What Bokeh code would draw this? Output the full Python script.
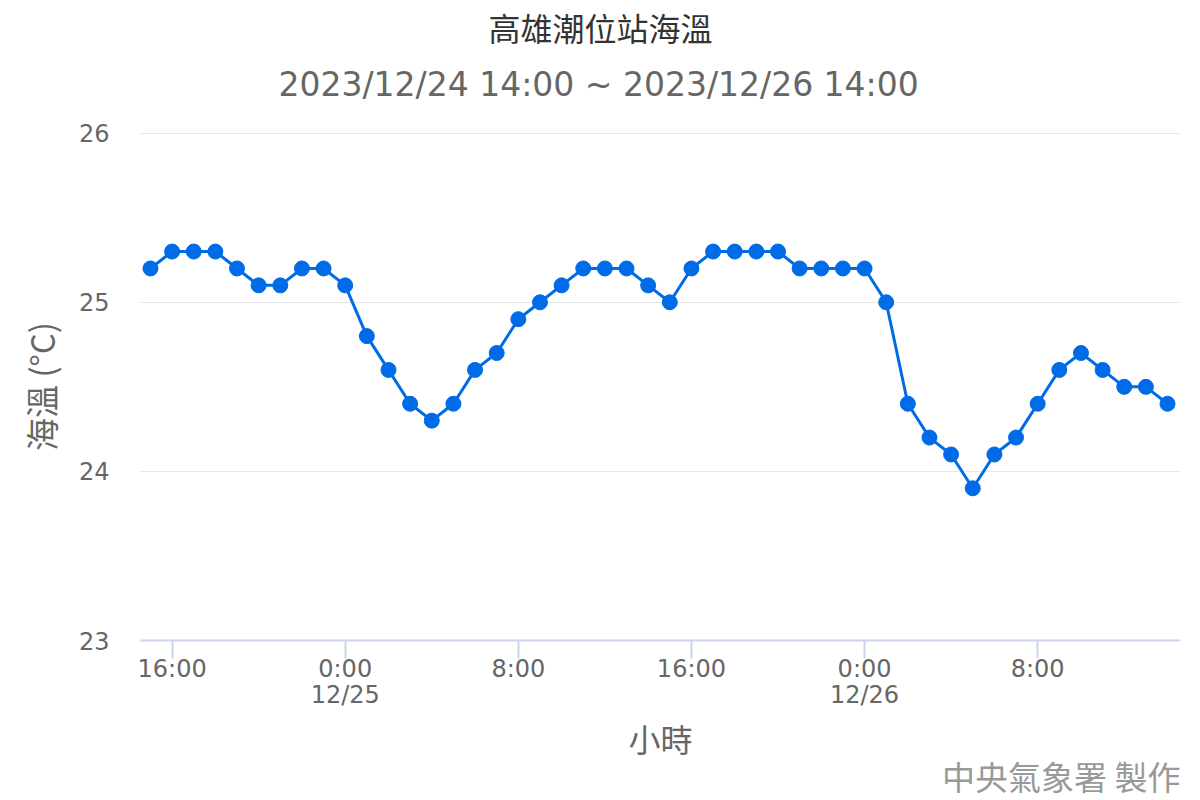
from bokeh.plotting import figure
from bokeh.models import ColumnDataSource, FixedTicker, Range1d, Title, LinearAxis
from bokeh.embed import file_html
from bokeh.resources import INLINE

# hours counted from 2023/12/24 00:00 (15 = 12/24 15:00 ... 62 = 12/26 14:00)
hours = [15, 16, 17, 18, 19, 20, 21, 22, 23,
         24, 25, 26, 27, 28, 29, 30, 31, 32, 33, 34, 35, 36, 37, 38, 39,
         40, 41, 42, 43, 44, 45, 46, 47,
         48, 49, 50, 51, 52, 53, 54, 55, 56, 57, 58, 59, 60, 61, 62]
sea_temp = [25.2, 25.3, 25.3, 25.3, 25.2, 25.1, 25.1, 25.2, 25.2,
            25.1, 24.8, 24.6, 24.4, 24.3, 24.4, 24.6, 24.7, 24.9, 25.0, 25.1, 25.2, 25.2, 25.2, 25.1, 25.0,
            25.2, 25.3, 25.3, 25.3, 25.3, 25.2, 25.2, 25.2,
            25.2, 25.0, 24.4, 24.2, 24.1, 23.9, 24.1, 24.2, 24.4, 24.6, 24.7, 24.6, 24.5, 24.5, 24.4]

x_ticks = [16, 24, 32, 40, 48, 56]
x_tick_labels = ["16:00", "0:00", "8:00", "16:00", "0:00", "8:00"]
date_ticks = [24, 48]
date_labels = ["12/25", "12/26"]
y_ticks = [23, 24, 25, 26]

title_text = "高雄潮位站海溫"
subtitle_text = "2023/12/24 14:00 ~ 2023/12/26 14:00"
y_title = "海溫 (°C)"
x_title = "小時"
credit_text = "中央氣象署 製作"

NUM_FONT = "DejaVu Sans"
CJK_FONT = "Noto Sans CJK TC"
LINE_COLOR = "#006be6"
AXIS_COLOR = "#ccd6eb"

src = ColumnDataSource(dict(x=hours, y=sea_temp))

p = figure(width=1200, height=800, output_backend="svg", toolbar_location=None,
           title=None,
           x_range=Range1d(14.54, 62.6), y_range=Range1d(23, 26.004),
           min_border_left=140, min_border_right=20,
           min_border_top=132, min_border_bottom=160)
p.outline_line_color = None

p.line("x", "y", source=src, line_color=LINE_COLOR, line_width=3)
p.scatter("x", "y", source=src, size=15, fill_color=LINE_COLOR, line_color=LINE_COLOR)

# x axis (time of day)
xa = p.xaxis[0]
xa.ticker = FixedTicker(ticks=x_ticks)
xa.major_label_overrides = {t: l for t, l in zip(x_ticks, x_tick_labels)}
xa.axis_line_color = AXIS_COLOR
xa.axis_line_width = 2
xa.major_tick_line_color = AXIS_COLOR
xa.major_tick_line_width = 2
xa.major_tick_out = 18
xa.major_tick_in = 0
xa.minor_tick_line_color = None
xa.major_label_standoff = -4
xa.major_label_text_font = NUM_FONT
xa.major_label_text_font_size = "24px"
xa.major_label_text_color = "#666666"

# second row of x labels (dates) + x axis title
da = LinearAxis(ticker=FixedTicker(ticks=date_ticks),
                major_label_overrides={t: l for t, l in zip(date_ticks, date_labels)})
da.axis_line_color = None
da.major_tick_line_color = None
da.minor_tick_line_color = None
da.major_tick_out = 0
da.major_tick_in = 0
da.major_label_standoff = -5
da.major_label_text_font = NUM_FONT
da.major_label_text_font_size = "24px"
da.major_label_text_color = "#666666"
da.axis_label = x_title
da.axis_label_standoff = 3
da.axis_label_text_font = CJK_FONT
da.axis_label_text_font_size = "32px"
da.axis_label_text_font_style = "normal"
da.axis_label_text_color = "#666666"
p.add_layout(da, "below")

# y axis
ya = p.yaxis[0]
ya.ticker = FixedTicker(ticks=y_ticks)
ya.axis_line_color = None
ya.major_tick_line_color = None
ya.minor_tick_line_color = None
ya.major_tick_out = 0
ya.major_tick_in = 0
ya.major_label_standoff = 31
ya.major_label_text_font = NUM_FONT
ya.major_label_text_font_size = "24px"
ya.major_label_text_color = "#666666"
ya.axis_label = y_title
ya.axis_label_standoff = 11
ya.axis_label_text_font = CJK_FONT
ya.axis_label_text_font_size = "33px"
ya.axis_label_text_font_style = "normal"
ya.axis_label_text_color = "#666666"

p.xgrid.grid_line_color = None
p.ygrid.ticker = FixedTicker(ticks=y_ticks)
p.ygrid.grid_line_color = "#e6e6e6"
p.ygrid.grid_line_width = 1

# credits below
p.add_layout(Title(text=credit_text, align="right", text_font=CJK_FONT,
                   text_font_size="33px", text_color="#999999",
                   text_font_style="normal", standoff=-28), "below")

# subtitle then title (later ones stack further out)
p.add_layout(Title(text=subtitle_text, align="left", offset=138, text_font=NUM_FONT,
                   text_font_size="33px", text_color="#666666",
                   text_font_style="normal", standoff=58), "above")
p.add_layout(Title(text=title_text, align="left", offset=348, text_font=CJK_FONT,
                   text_font_size="32px", text_color="#333333",
                   text_font_style="normal", standoff=-32), "above")

open("out.html", "w").write(file_html(p, INLINE))
